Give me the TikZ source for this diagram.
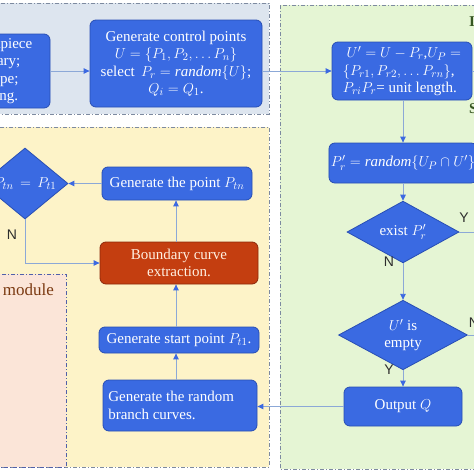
\documentclass[tikz,border=0pt]{standalone}
\usepackage{fontspec}
\setmainfont{Liberation Serif}
\newfontfamily\lsans{Liberation Sans}
\usetikzlibrary{arrows.meta,shapes.geometric,calc}
\definecolor{boxblue}{RGB}{58,106,226}
\definecolor{boxedge}{RGB}{40,78,180}
\definecolor{boxred}{RGB}{196,62,16}
\definecolor{rededge}{RGB}{140,40,10}
\definecolor{regblue}{RGB}{221,229,239}
\definecolor{reggreen}{RGB}{229,245,212}
\definecolor{regyellow}{RGB}{253,243,200}
\definecolor{regpink}{RGB}{251,229,216}
\definecolor{bordergray}{RGB}{125,138,160}
\definecolor{borderblue}{RGB}{80,96,170}
\definecolor{lineblue}{RGB}{140,168,215}
\definecolor{tipblue}{RGB}{60,105,225}
\definecolor{labgray}{RGB}{45,45,45}
\definecolor{modbrown}{RGB}{123,58,18}
\definecolor{darkgreen}{RGB}{55,86,35}
\begin{document}
\begin{tikzpicture}[x=1pt,y=-1pt,
  region/.style={line width=1pt, dash pattern=on 4pt off 2pt on 1pt off 2pt},
  box/.style={rectangle, rounded corners=6pt, fill=boxblue, draw=boxedge, line width=0.8pt,
    text=white, font=\fontsize{15}{17.5}\selectfont, inner sep=2pt, align=center},
  redbox/.style={box, fill=boxred, draw=rededge, text={rgb,255:red,255;green,240;blue,225}},
  dia/.style={diamond, fill=boxblue, draw=boxedge, line width=0.8pt, text=white,
    font=\fontsize{15}{17.5}\selectfont, inner sep=0pt, align=center},
  conn/.style={draw=lineblue, line width=0.9pt},
  arr/.style={conn, -{Triangle[length=6pt,width=5.5pt,color=tipblue]}},
  yn/.style={font=\lsans\fontsize{14}{16}\selectfont, text=labgray, inner sep=0pt}
]
\useasboundingbox (0,0) rectangle (474,474);
\clip (0,0) rectangle (474,474);

% regions
\path[region, fill=regblue, draw=bordergray] (-10,3) rectangle (269,114);
\path[region, fill=reggreen, draw=bordergray] (280,5) rectangle (490,469);
\path[region, fill=regyellow, draw=bordergray] (-10,127) rectangle (269,467);
\path[region, fill=regpink, draw=borderblue] (-10,274) rectangle (66,467);

% region titles (partly outside the frame)
\node[anchor=east, inner sep=0pt, text=modbrown, font=\fontsize{17}{19}\selectfont] (tmod) at (54,290) {module};
\node[anchor=west, inner sep=0pt, text=darkgreen, font=\bfseries\fontsize{15}{17}\selectfont] (ti) at (469,22) {I};
\node[anchor=west, inner sep=0pt, text=darkgreen, font=\bfseries\fontsize{15}{17}\selectfont] (ts) at (469,109) {S};

% helper coordinates
\coordinate (rx) at (495,0);
\coordinate (lx) at (-40,0);
\coordinate (ax) at (176,0);
\coordinate (cx) at (403,0);

% top row
\node[box, minimum width=120pt, minimum height=74pt] (b1) at (-10,71)
  {the workpiece\\boundary;\\tool type;\\planning.};
\node[box, minimum width=172pt, minimum height=87pt] (b2) at (176,63.5)
  {Generate control points\\ $U=\{P_1,P_2,\dots P_n\}$\\ select\, $P_r=\mathit{random}\{U\}$;\\ $Q_i=Q_1$.};
\node[box, minimum width=140pt, minimum height=58pt, align=left] (b3) at (402,71)
  {\ $U'=U-P_r$,$U_P=$\\ $\{P_{r1},P_{r2},\dots P_{rn}\}$,\\ $P_{ri}P_r$= unit length.};

% right column
\node[box, minimum width=146pt, minimum height=40pt] (b4) at (403,163)
  {$P'_r=\mathit{random}\{U_P\cap U'\}$};
\node[dia, minimum width=112pt, minimum height=46pt] (d1) at (403,232) {exist $P'_r$};
\node[dia, minimum width=129pt, minimum height=56pt] (d2) at (403,335) {$U'$ is\\ empty};
\node[box, minimum width=118pt, minimum height=39pt] (b5) at (403,406.5) {Output $Q$};

% left column
\node[box, minimum width=154pt, minimum height=51pt, align=left] (b6) at (180,405.5)
  {\hspace*{3pt}Generate the random\\\hspace*{3pt}branch curves.\hspace*{59pt}};
\node[box, minimum width=160pt, minimum height=26pt] (b7) at (179,340) {Generate start point $P_{t1}$.};
\node[redbox, minimum width=158pt, minimum height=42pt] (b8) at (179,263) {Boundary curve\\ extraction.};
\node[box, minimum width=150pt, minimum height=33pt] (b9) at (177,183.5) {Generate the point $P_{tn}$};
\node[dia, minimum width=86pt, minimum height=71pt, aspect=1.2] (d3) at (25,183.5) {$P_{tn}\,=\,P_{t1}$};

% connectors
\draw[arr] (b1.east) -- (b1.east -| b2.west);
\draw[arr] (b3.west -| b2.east) -- (b3.west);
\draw[conn] (b3.east) -- (b3.east -| rx);
\draw[arr] (cx |- b3.south) -- (cx |- b4.north);
\draw[arr] (b4.south) -- (d1.north);
\draw[arr] (d1.south) -- (d2.north);
\draw[conn] (d1.east) -- (d1.east -| rx);
\draw[conn] (d2.east) -- (d2.east -| rx);
\draw[arr] (d2.south) -- (b5.north);
\draw[arr] (b5.west) -- (b5.west -| b6.east);
\draw[arr] (ax |- b6.north) -- (ax |- b7.south);
\draw[arr] (ax |- b7.north) -- (ax |- b8.south);
\draw[arr] (ax |- b8.north) -- (ax |- b9.south);
\draw[arr] (b9.west) -- (d3.east);
\draw[arr] (d3.south) |- (b8.west);
\draw[conn] (d3.west) -- (d3.west -| lx);

% Y / N labels
\node[yn] (y1) at (464,218) {Y};
\node[yn] (n1) at (389,262) {N};
\node[yn] (n2) at (474,323) {N};
\node[yn] (y2) at (389,370) {Y};
\node[yn] (n3) at (12,235) {N};
\end{tikzpicture}
\end{document}
